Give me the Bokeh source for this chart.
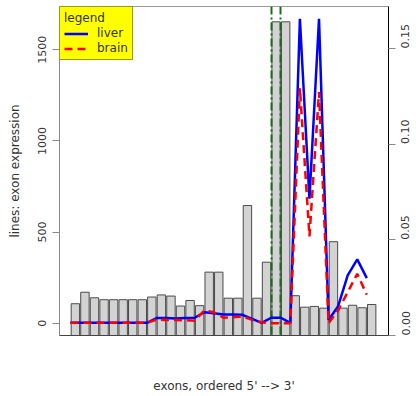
import math
from bokeh.plotting import figure
from bokeh.models import (Range1d, LinearAxis, FixedTicker, PrintfTickFormatter,
                          Legend, LegendItem, ColumnDataSource)
from bokeh.embed import file_html
from bokeh.resources import INLINE

# ---- data ----
exons = list(range(1, 33))
liver = [2, 2, 2, 2, 2, 2, 2, 2, 2, 28, 28, 26, 28, 30, 60, 55, 48, 48, 46, 24,
         2, 30, 30, 2, 1670, 683, 1670, 18, 93, 262, 350, 247]
brain = [2, 2, 2, 2, 2, 2, 2, 2, 2, 20, 18, 18, 16, 14, 70, 60, 30, 33, 37, 18,
         5, 0, 0, 0, 1290, 476, 1268, 0, 70, 170, 271, 156]
proportion = [0.0166, 0.0226, 0.0197, 0.0187, 0.0187, 0.0187, 0.0187, 0.0187,
              0.0201, 0.0212, 0.0206, 0.0154, 0.0183, 0.0156, 0.0331, 0.0331,
              0.0195, 0.0195, 0.0679, 0.0195, 0.0383, 0.1639, 0.1639, 0.0208,
              0.0148, 0.0152, 0.0143, 0.0490, 0.0143, 0.0158, 0.0145, 0.0162]
highlight = [22, 23]
left_ticks = [0, 500, 1000, 1500]
right_ticks = [0.0, 0.05, 0.10, 0.15]

FONT = "DejaVu Sans"
TXT = "#333333"

p = figure(width=416, height=396,
           x_range=Range1d(-0.151, 34.27), y_range=Range1d(-67.5, 1737.5),
           output_backend="svg", toolbar_location=None,
           min_border_left=59, min_border_right=28,
           min_border_top=6, min_border_bottom=61)
p.extra_y_ranges = {"prop": Range1d(0, 0.1719)}
p.grid.visible = False
p.outline_line_color = "#9a9a9a"
p.outline_line_width = 1

bars = ColumnDataSource(dict(
    left=[e + 0.07 for e in exons],
    right=[e + 0.95 for e in exons],
    top=proportion,
    bottom=[0] * len(exons),
))
p.quad(left="left", right="right", top="top", bottom="bottom", source=bars,
       y_range_name="prop", fill_color="#D3D3D3", line_color="#4a4a4a",
       line_width=1)

p.vspan(x=highlight, line_color="#1a6e1a", line_width=2, line_dash="8 3 2 3")

r_liver = p.line(exons, liver, line_color="#0000FF", line_width=2.5)
r_brain = p.line(exons, brain, line_color="#FF0000", line_width=2.5,
                 line_dash="8 5")

# left axis
ya = p.yaxis[0]
ya.ticker = FixedTicker(ticks=left_ticks)
ya.axis_label = "lines: exon expression"
ya.axis_label_text_font = FONT
ya.axis_label_text_font_size = "12px"
ya.axis_label_text_font_style = "normal"
ya.axis_label_text_color = TXT
ya.axis_label_standoff = 14
ya.major_label_orientation = "vertical"
ya.major_label_text_font = FONT
ya.major_label_text_font_size = "11px"
ya.major_label_text_color = TXT
ya.major_label_standoff = 6
ya.major_tick_out = 7
ya.major_tick_in = 0
ya.major_tick_line_color = "#888888"
ya.minor_tick_line_color = None
ya.axis_line_color = "#888888"

# right axis (bar proportions)
ra = LinearAxis(y_range_name="prop", ticker=FixedTicker(ticks=right_ticks),
                formatter=PrintfTickFormatter(format="%.2f"))
ra.major_label_orientation = math.pi / 2
ra.major_label_text_font = FONT
ra.major_label_text_font_size = "11px"
ra.major_label_text_color = TXT
ra.major_label_standoff = 10
ra.major_tick_out = 7
ra.major_tick_in = 0
ra.major_tick_line_color = "#888888"
ra.minor_tick_line_color = None
ra.axis_line_color = "#000000"
p.add_layout(ra, "right")

# bottom axis: label only
xa = p.xaxis[0]
xa.ticker = FixedTicker(ticks=[])
xa.axis_label = "exons, ordered 5' --> 3'"
xa.axis_label_text_font = FONT
xa.axis_label_text_font_size = "12px"
xa.axis_label_text_font_style = "normal"
xa.axis_label_text_color = TXT
xa.axis_label_standoff = 43
xa.major_tick_line_color = None
xa.minor_tick_line_color = None
xa.major_label_standoff = 0
xa.axis_line_color = "#444444"

legend = Legend(items=[LegendItem(label="liver", renderers=[r_liver]),
                       LegendItem(label="brain", renderers=[r_brain])],
                title="legend", location="top_left")
legend.margin = 0
legend.padding = 4
legend.spacing = 1
legend.glyph_width = 24
legend.glyph_height = 13
legend.label_height = 13
legend.label_standoff = 9
legend.title_standoff = 1
legend.background_fill_color = "#FFFF00"
legend.background_fill_alpha = 1
legend.border_line_color = "#333333"
legend.border_line_width = 1
legend.label_text_font = FONT
legend.label_text_font_size = "12px"
legend.label_text_color = TXT
legend.title_text_font = FONT
legend.title_text_font_size = "12px"
legend.title_text_font_style = "normal"
legend.title_text_color = TXT
p.add_layout(legend)

open("out.html", "w").write(file_html(p, INLINE))
